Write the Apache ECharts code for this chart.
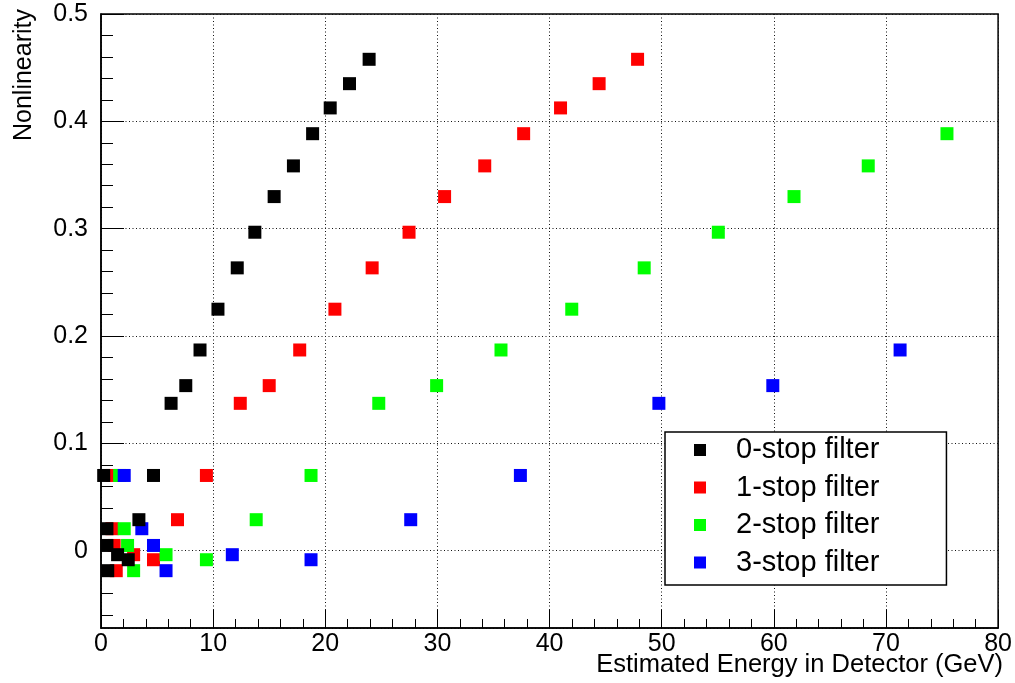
<!DOCTYPE html>
<html>
<head>
<meta charset="utf-8">
<title>Nonlinearity vs Estimated Energy</title>
<script src="https://cdn.jsdelivr.net/npm/echarts@6.0.0/dist/echarts.min.js"></script>
<style>
  html, body { margin: 0; padding: 0; background: #fff; }
  #chart { width: 1015px; height: 683px; }
</style>
</head>
<body>
<div id="chart"></div>
<script>
// energy (GeV) per filter setting, nonlinearity per point
const stop0X = [0.24, 0.53, 0.53, 0.6, 1.48, 2.43, 3.38, 4.68, 6.25, 7.56, 8.83, 10.43, 12.15, 13.72, 15.44, 17.16, 18.87, 20.44, 22.16, 23.91];
const stop0Y = [0.0701, 0.0205, 0.0049, -0.0186, -0.0037, -0.0084, 0.0289, 0.0701, 0.1373, 0.1538, 0.187, 0.225, 0.2635, 0.2967, 0.3299, 0.3585, 0.3885, 0.4125, 0.4351, 0.4578];

const stop1X = [0.98, 0.98, 1.17, 1.36, 2.91, 4.68, 6.82, 9.4, 12.42, 15.0, 17.72, 20.86, 24.18, 27.47, 30.64, 34.22, 37.69, 40.98, 44.42, 47.85];
const stop1Y = [0.0701, 0.0205, 0.0049, -0.0186, -0.0037, -0.0084, 0.0289, 0.0701, 0.1373, 0.1538, 0.187, 0.225, 0.2635, 0.2967, 0.3299, 0.3585, 0.3885, 0.4125, 0.4351, 0.4578];

const stop2X = [1.66, 2.07, 2.37, 2.91, 5.8, 9.4, 13.84, 18.73, 24.77, 29.93, 35.67, 41.98, 48.44, 55.05, 61.8, 68.42, 75.44];
const stop2Y = [0.0701, 0.0205, 0.0049, -0.0186, -0.0037, -0.0084, 0.0289, 0.0701, 0.1373, 0.1538, 0.187, 0.225, 0.2635, 0.2967, 0.3299, 0.3585, 0.3885];

const stop3X = [2.07, 3.64, 4.68, 5.8, 11.71, 18.73, 27.62, 37.4, 49.75, 59.91, 71.26];
const stop3Y = [0.0701, 0.0205, 0.0049, -0.0186, -0.0037, -0.0084, 0.0289, 0.0701, 0.1373, 0.1538, 0.187];

const seriesNames = ['0-stop filter', '1-stop filter', '2-stop filter', '3-stop filter'];
const seriesColors = ['#000000', '#ff0000', '#00ff00', '#0000ff'];

// ROOT style minor ticks on y, every 0.02
const yMinorTicks = [-0.06, -0.04, -0.02, 0.02, 0.04, 0.06, 0.08, 0.12, 0.14, 0.16, 0.18, 0.22, 0.24, 0.26, 0.28,
  0.32, 0.34, 0.36, 0.38, 0.42, 0.44, 0.46, 0.48];

const xTitle = 'Estimated Energy in Detector (GeV)';
const yTitle = 'Nonlinearity';

const FONT = 'Liberation Sans, Arial, Helvetica, sans-serif';
const Y_MIN = -0.072, Y_MAX = 0.5;

function pairs(xs, ys) {
  return xs.map((x, i) => [x, ys[i]]);
}

const allX = [stop0X, stop1X, stop2X, stop3X];
const allY = [stop0Y, stop1Y, stop2Y, stop3Y];

const chart = echarts.init(document.getElementById('chart'), null, { renderer: 'canvas' });

const option = {
  animation: false,
  backgroundColor: '#fff',
  grid: {
    left: 101, right: 13, top: 14, bottom: 55,
    show: true, borderColor: '#000', borderWidth: 1.5, backgroundColor: 'transparent'
  },
  xAxis: {
    type: 'value', min: 0, max: 80, interval: 10,
    axisLine: { show: true, onZero: false, lineStyle: { color: '#000', width: 1.5 } },
    axisTick: { show: true, inside: true, length: 18, lineStyle: { color: '#000', width: 1 } },
    minorTick: { show: true, splitNumber: 5, length: 9, lineStyle: { color: '#000', width: 1 } },
    axisLabel: { color: '#000', fontFamily: FONT, fontSize: 25, margin: 4 },
    splitLine: { show: true, lineStyle: { color: '#111', width: 1, type: [1, 2.5] } }
  },
  yAxis: [
    {
      type: 'value', min: Y_MIN, max: Y_MAX, splitNumber: 5,
      axisLine: { show: true, onZero: false, lineStyle: { color: '#000', width: 1.5 } },
      axisTick: { show: true, inside: true, length: 23, lineStyle: { color: '#000', width: 1 } },
      minorTick: { show: false },
      axisLabel: { color: '#000', fontFamily: FONT, fontSize: 25, margin: 13, showMinLabel: false },
      splitLine: { show: true, lineStyle: { color: '#111', width: 1, type: [1, 2.5] } }
    },
    {
      // overlay axis only for the minor ticks
      type: 'value', position: 'left', min: Y_MIN, max: Y_MAX,
      axisLine: { show: false },
      axisTick: { show: true, inside: true, length: 12, customValues: yMinorTicks, lineStyle: { color: '#000', width: 1 } },
      axisLabel: { show: false },
      splitLine: { show: false }
    }
  ],
  legend: {
    orient: 'vertical',
    left: 665, top: 432,
    data: seriesNames,
    icon: 'rect',
    itemWidth: 12, itemHeight: 12,
    itemGap: 8.5,
    padding: [3.5, 67, 8, 29],
    backgroundColor: '#fff',
    borderColor: '#000',
    borderWidth: 1.5,
    borderRadius: 0,
    textStyle: { color: '#000', fontFamily: FONT, fontSize: 29, lineHeight: 29, padding: [0, 0, 0, 25] }
  },
  graphic: [
    {
      type: 'text', right: 12, top: 652,
      style: { text: xTitle, fill: '#000', font: '25.5px ' + FONT, textAlign: 'right' }
    },
    {
      type: 'text', x: 24, y: 9, rotation: Math.PI / 2,
      style: { text: yTitle, fill: '#000', font: '25px ' + FONT, textAlign: 'right', textVerticalAlign: 'middle' }
    }
  ],
  series: seriesNames.map((name, k) => ({
    name: name,
    type: 'scatter',
    symbol: 'rect',
    symbolSize: 13,
    z: k === 0 ? 5 : 2 + k * 0.1,
    itemStyle: { color: seriesColors[k], opacity: 1 },
    emphasis: { disabled: true },
    data: pairs(allX[k], allY[k])
  }))
};

chart.setOption(option);
</script>
</body>
</html>
